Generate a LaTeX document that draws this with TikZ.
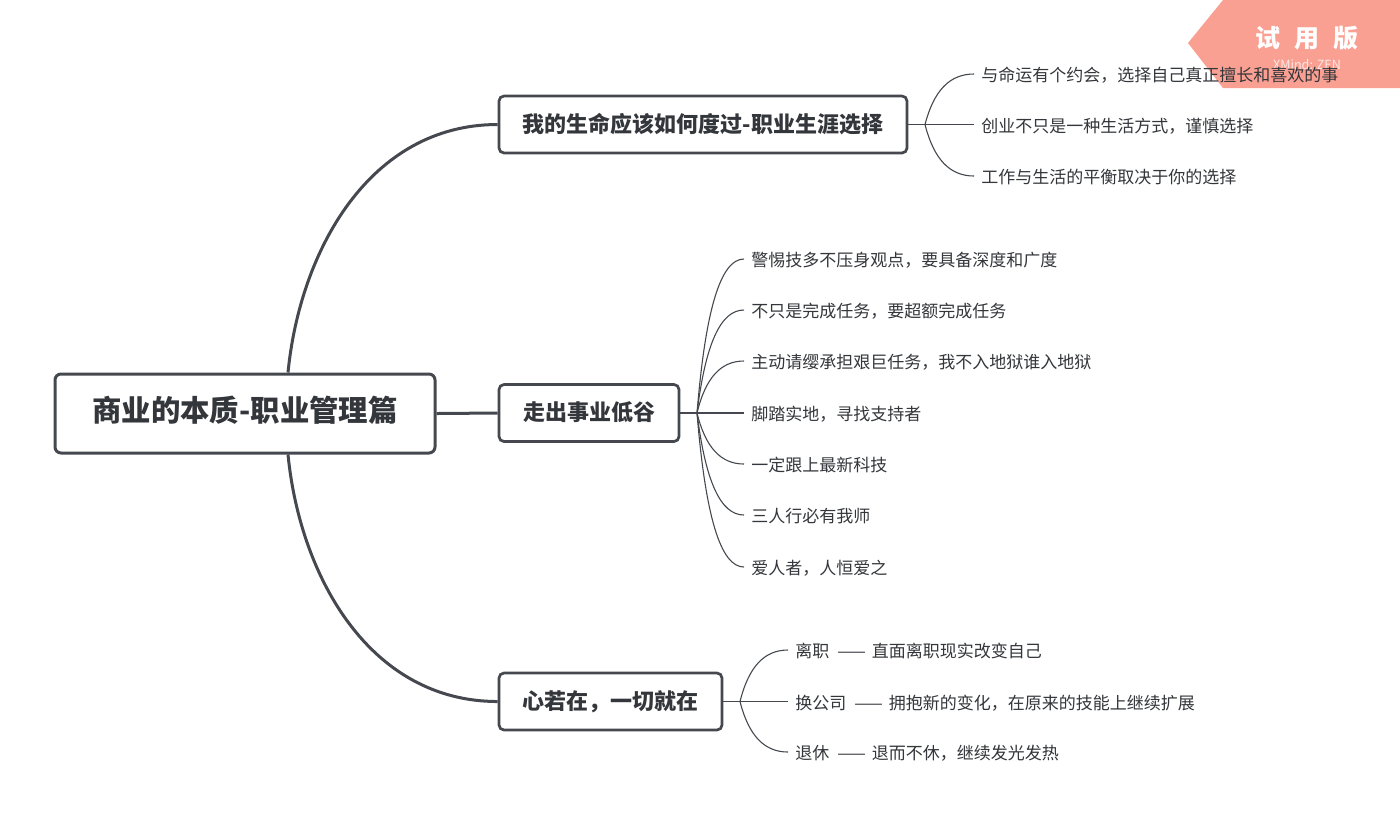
\documentclass[tikz,border=0pt]{standalone}
\usepackage{fontspec}
\setmainfont{Noto Sans CJK SC}
\usetikzlibrary{calc}
\definecolor{ink}{HTML}{45494F}
\definecolor{txt}{HTML}{33363A}
\definecolor{wm}{HTML}{F9A093}
\newcommand\fanto[2]{\draw[sublink] let \p1=(#1),\p2=(#2.west) in (#1) .. controls ({\x1+0.18*(\x2-\x1)},{\y1+0.67*(\y2-\y1)}) and ({0.5*\x1+0.5*\x2},\y2) .. (#2.west);}
\newcommand\dsh{\hspace{4pt}——\hspace{3pt}}
\begin{document}
\begin{tikzpicture}[x=0.5pt,y=-0.5pt,
 rootbox/.style={draw=ink, line width=1.5pt, rounded corners=3pt, fill=white, minimum width=190pt, minimum height=39.5pt, font=\bfseries\fontsize{14.7}{16}\selectfont, text=txt, inner sep=0pt, text height=0.88em, text depth=0.12em},
 topicbox/.style={draw=ink, line width=1.35pt, rounded corners=2.5pt, fill=white, minimum height=28.5pt, font=\bfseries\fontsize{11}{13}\selectfont, text=txt, inner sep=0pt, text height=0.88em, text depth=0.12em},
 leaf/.style={anchor=west, inner xsep=3.5pt, inner ysep=0pt, font=\fontsize{8.5}{10}\selectfont, text=txt, text height=0.88em, text depth=0.12em},
 mainlink/.style={draw=ink, line width=1.5pt},
 sublink/.style={draw=ink, line width=0.55pt},
 wmtext/.style={text=white, inner sep=0pt},
]
\useasboundingbox (0,0) rectangle (1400,827);
\fill[white] (0,0) rectangle (1400,827);

% watermark
\fill[wm] (1188,43) -- (1223,0) -- (1400,0) -- (1400,88) -- (1223,88) -- cycle;
\node[wmtext, font=\bfseries\fontsize{12.5}{14}\selectfont] (wm1) at (1307,38) {试\hspace{7pt}用\hspace{7pt}版};
\node[wmtext, text opacity=0.75, font=\fontsize{6.3}{8}\selectfont] (wm2) at (1307,65) {XMind: ZEN};

% main nodes
\node[rootbox] (root) at (245,413.5) {商业的本质-职业管理篇};
\node[topicbox, minimum width=204pt] (b1) at (703,124.5) {我的生命应该如何度过-职业生涯选择};
\node[topicbox, minimum width=90pt] (b2) at (589,413) {走出事业低谷};
\node[topicbox, minimum width=111.5pt] (b3) at (610.5,701.5) {心若在，一切就在};

\draw[mainlink] (root.east) -- (b2.west);
\draw[mainlink] ([xshift=21.5pt]root.north) .. controls (300,250) and (370,124.5) .. (b1.west);
\draw[mainlink] ([xshift=21.5pt]root.south) .. controls (300,577) and (370,701.5) .. (b3.west);

% branch 1
\coordinate (j1) at (925,124.5);
\draw[sublink] (b1.east) -- (j1);
\node[leaf] (a1) at (974,74) {与命运有个约会，选择自己真正擅长和喜欢的事};
\node[leaf] (a2) at (974,124.5) {创业不只是一种生活方式，谨慎选择};
\node[leaf] (a3) at (974,176) {工作与生活的平衡取决于你的选择};
\foreach \c in {a1,a2,a3} {\fanto{j1}{\c}}

% branch 2
\coordinate (j2) at (697,413);
\draw[sublink] (b2.east) -- (j2);
\node[leaf] (c1) at (744,259) {警惕技多不压身观点，要具备深度和广度};
\node[leaf] (c2) at (744,310) {不只是完成任务，要超额完成任务};
\node[leaf] (c3) at (744,361) {主动请缨承担艰巨任务，我不入地狱谁入地狱};
\node[leaf] (c4) at (744,413) {脚踏实地，寻找支持者};
\node[leaf] (c5) at (744,464) {一定跟上最新科技};
\node[leaf] (c6) at (744,515) {三人行必有我师};
\node[leaf] (c7) at (744,567) {爱人者，人恒爱之};
\foreach \c in {c1,c2,c3,c4,c5,c6,c7} {\fanto{j2}{\c}}

% branch 3
\coordinate (j3) at (740,701.5);
\draw[sublink] (b3.east) -- (j3);
\node[leaf] (d1) at (788,650) {离职\dsh 直面离职现实改变自己};
\node[leaf] (d2) at (788,701.5) {换公司\dsh 拥抱新的变化，在原来的技能上继续扩展};
\node[leaf] (d3) at (788,752) {退休\dsh 退而不休，继续发光发热};
\foreach \c in {d1,d2,d3} {\fanto{j3}{\c}}
\end{tikzpicture}
\end{document}
